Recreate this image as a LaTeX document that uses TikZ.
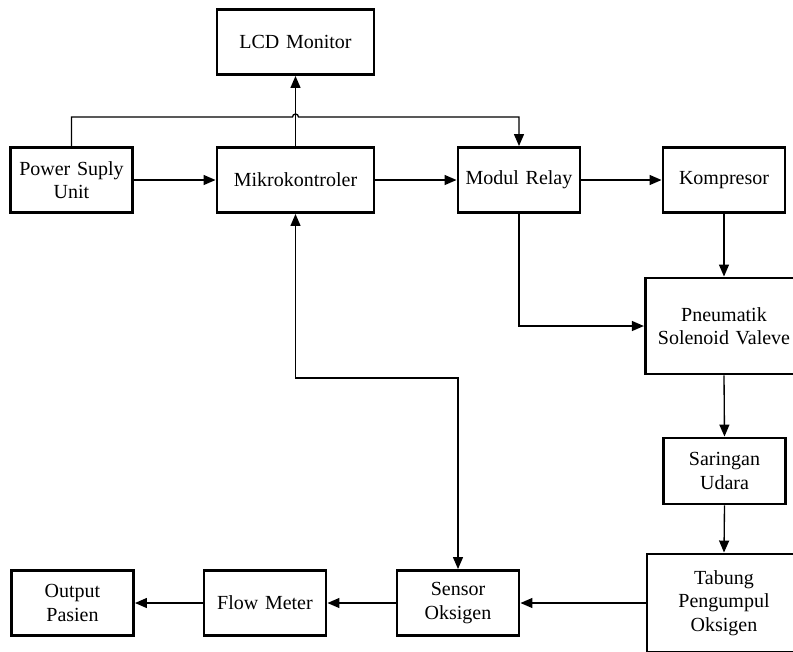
\documentclass[tikz,border=0pt]{standalone}
\usepackage{fontspec}
\setmainfont{Liberation Serif}
\usetikzlibrary{arrows.meta}

\tikzstyle{block} = [draw, line width=2.2pt, text width=91.5pt, inner sep=0pt,
    text centered, minimum height=48.75pt, font=\fontsize{15}{17.5}\selectfont]
\tikzstyle{wide} = [block, text width=117.75pt]
\tikzstyle{tall} = [block, text width=118pt, minimum height=72pt]
\tikzstyle{conn} = [draw, line width=1pt, -{Triangle[length=9pt,width=7.5pt]}]
\tikzstyle{both} = [conn, {Triangle[length=9pt,width=7.5pt]}-{Triangle[length=9pt,width=7.5pt]}]
\def\rowdist{223.5}

\begin{document}
\begin{tikzpicture}[x=0.75pt,y=-0.75pt]
    \clip (0,0) rectangle (793,651);

    \node (mcu) [wide] at (295.5,180) {Mikrokontroler};
    \path (mcu)+(-224,0) node (psu) [block] {Power Suply\\Unit};
    \path (mcu)+(0,-138) node (lcd) [wide] {LCD Monitor};
    \path (mcu)+(\rowdist,0) node (relay) [block] {Modul Relay};
    \path (relay)+(205,0) node (komp) [block] {Kompresor};
    \path (komp)+(0,146) node (pneu) [tall] {Pneumatik\\Solenoid Valeve};
    \path (pneu)+(0.5,145) node (saring) [block, minimum height=49.5pt] {Saringan\\Udara};
    \path (saring)+(-0.5,132) node (tabung) [tall, text width=115.5pt, minimum height=73.5pt] {Tabung\\Pengumpul\\Oksigen};
    \path (tabung)+(-266,0) node (sensor) [block] {Sensor\\Oksigen};
    \path (sensor)+(-193,0) node (flow) [block] {Flow Meter};
    \path (flow)+(-192.5,0) node (pasien) [block] {Output\\Pasien};

    % power line jumps over the LCD wire
    \coordinate (hopL) at (292.5,117);
    \path [conn] (psu.north) |- (hopL) arc[start angle=180, end angle=360, radius=3] -| (relay.north);

    \path [conn] (psu.east) -- (mcu.west);
    \path [conn] (mcu.north) -- (lcd.south);
    \path [conn] (mcu.east) -- (relay.west);
    \path [conn] (relay.east) -- (komp.west);
    \path [conn] (komp.south) -- (pneu.north);
    \path [conn] (relay.south) |- (pneu.west);
    \path [conn] (pneu.south) -- (saring.north);
    \path [conn] (saring.south) -- (tabung.north);
    \path [conn] (tabung.west) -- (sensor.east);
    \path [conn] (sensor.west) -- (flow.east);
    \path [conn] (flow.west) -- (pasien.east);
    \path [both] (mcu.south) -- ++(0,164) -| (sensor.north);
\end{tikzpicture}
\end{document}
